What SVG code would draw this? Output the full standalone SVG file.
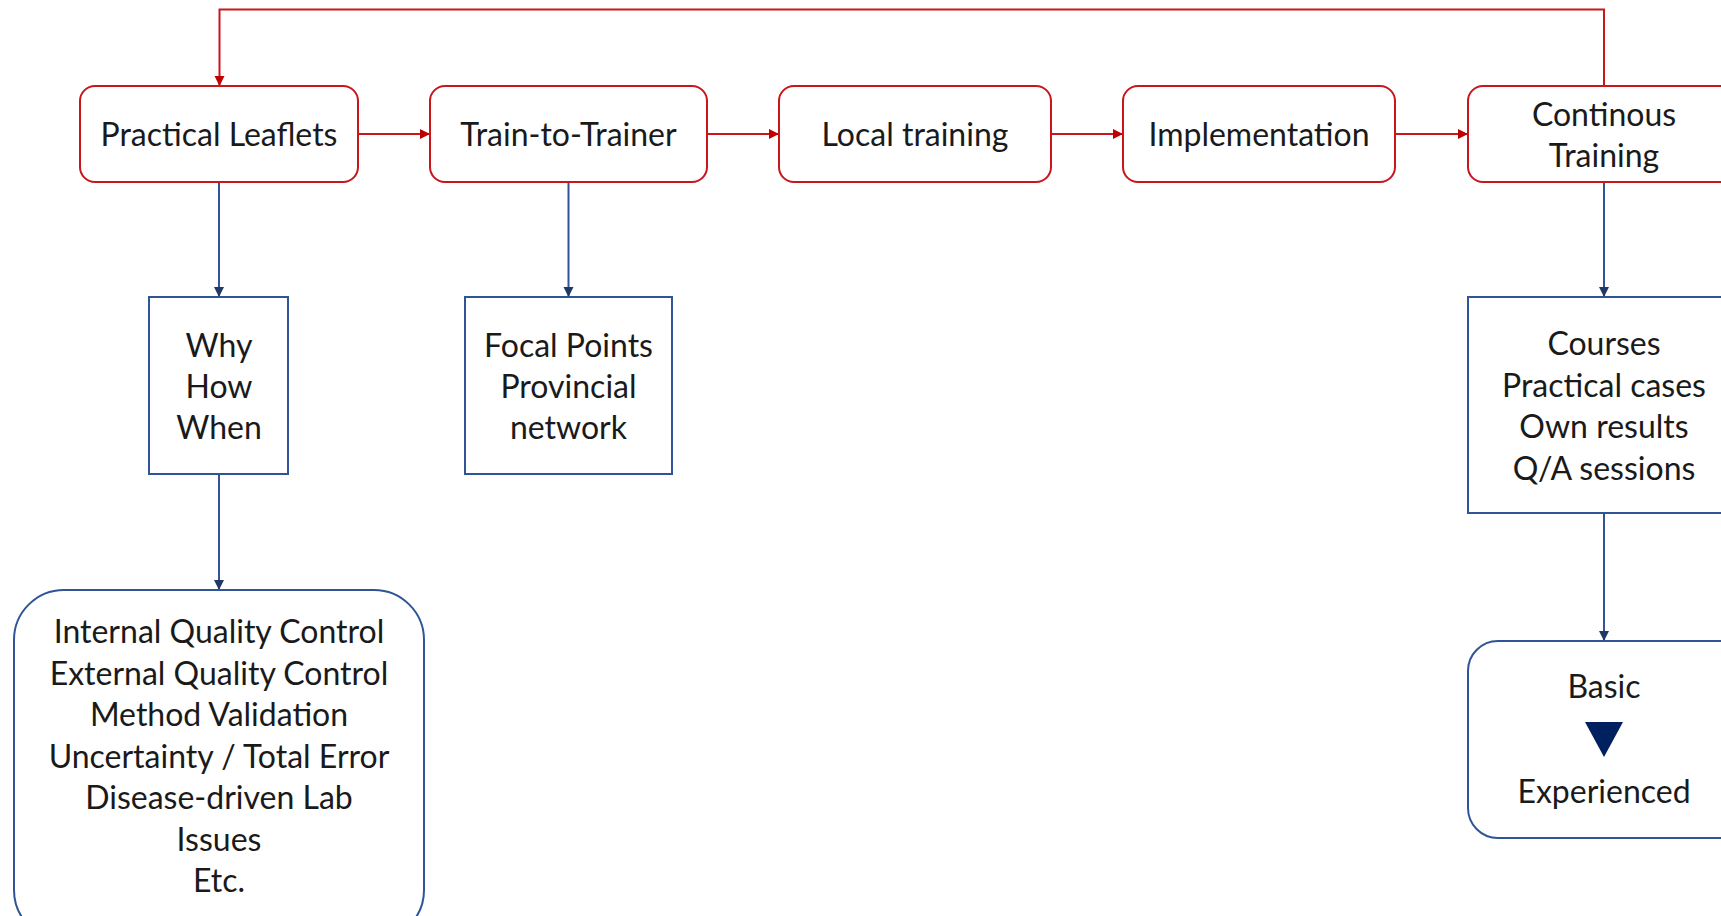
<svg xmlns="http://www.w3.org/2000/svg" width="1721" height="916" viewBox="0 0 1721 916">
<style>
.red{fill:#fff;stroke:#C8161D;stroke-width:2}
.blue{fill:#fff;stroke:#2F5597;stroke-width:2}
.t{font-family:Lato,"Open Sans","Liberation Sans",sans-serif;font-size:32px;fill:#1a1a1a;text-anchor:middle}
.rl{fill:none;stroke:#C8161D;stroke-width:2}
.bl{fill:none;stroke:#2F5597;stroke-width:2}
</style>
<defs>
<marker id="ar" markerUnits="userSpaceOnUse" markerWidth="12" markerHeight="12" refX="10" refY="5" orient="auto"><path d="M0,0 L10,5 L0,10 Z" fill="#C00000"/></marker>
<marker id="ab" markerUnits="userSpaceOnUse" markerWidth="12" markerHeight="12" refX="10" refY="5" orient="auto"><path d="M0,0 L10,5 L0,10 Z" fill="#1F3864"/></marker>
</defs>
<g id="connectors">
<path class="rl" d="M1604,86 V9.5 H219.5 V86" marker-end="url(#ar)"/>
<line class="rl" x1="358" y1="134" x2="430" y2="134" marker-end="url(#ar)"/>
<line class="rl" x1="707" y1="134" x2="779" y2="134" marker-end="url(#ar)"/>
<line class="rl" x1="1051" y1="134" x2="1123" y2="134" marker-end="url(#ar)"/>
<line class="rl" x1="1395" y1="134" x2="1468" y2="134" marker-end="url(#ar)"/>
<line class="bl" x1="219" y1="182" x2="219" y2="297" marker-end="url(#ab)"/>
<line class="bl" x1="568.5" y1="182" x2="568.5" y2="297" marker-end="url(#ab)"/>
<line class="bl" x1="219" y1="474" x2="219" y2="590" marker-end="url(#ab)"/>
<line class="bl" x1="1604" y1="182" x2="1604" y2="297" marker-end="url(#ab)"/>
<line class="bl" x1="1604" y1="513" x2="1604" y2="641" marker-end="url(#ab)"/>
</g>
<g id="practical-leaflets"><rect class="red" x="80" y="86" width="278" height="96" rx="15"/><text class="t" x="219" y="146">Practical Leaflets</text></g>
<g id="train-to-trainer"><rect class="red" x="430" y="86" width="277" height="96" rx="15"/><text class="t" x="568.5" y="146">Train-to-Trainer</text></g>
<g id="local-training"><rect class="red" x="779" y="86" width="272" height="96" rx="15"/><text class="t" x="915" y="146">Local training</text></g>
<g id="implementation"><rect class="red" x="1123" y="86" width="272" height="96" rx="15"/><text class="t" x="1259" y="146">Implementation</text></g>
<g id="continous-training"><rect class="red" x="1468" y="86" width="272" height="96" rx="15"/><text class="t" x="1604" y="126">Continous</text><text class="t" x="1604" y="167">Training</text></g>
<g id="why-how-when"><rect class="blue" x="149" y="297" width="139" height="177"/><text class="t" x="219" y="357">Why</text><text class="t" x="219" y="398">How</text><text class="t" x="219" y="439">When</text></g>
<g id="focal-points"><rect class="blue" x="465" y="297" width="207" height="177"/><text class="t" x="568.5" y="357">Focal Points</text><text class="t" x="568.5" y="398">Provincial</text><text class="t" x="568.5" y="439">network</text></g>
<g id="quality-topics"><rect class="blue" x="14" y="590" width="410" height="350" rx="50"/>
<text class="t" x="219" y="643">Internal Quality Control</text>
<text class="t" x="219" y="684.5">External Quality Control</text>
<text class="t" x="219" y="726">Method Validation</text>
<text class="t" x="219" y="767.5">Uncertainty / Total Error</text>
<text class="t" x="219" y="809">Disease-driven Lab</text>
<text class="t" x="219" y="850.5">Issues</text>
<text class="t" x="219" y="892">Etc.</text></g>
<g id="courses"><rect class="blue" x="1468" y="297" width="300" height="216"/>
<text class="t" x="1604" y="355">Courses</text>
<text class="t" x="1604" y="396.5">Practical cases</text>
<text class="t" x="1604" y="438">Own results</text>
<text class="t" x="1604" y="479.5">Q/A sessions</text></g>
<g id="basic-experienced"><rect class="blue" x="1468" y="641" width="300" height="197" rx="30"/>
<text class="t" x="1604" y="698">Basic</text>
<path d="M1585,722 L1623,722 L1604,757 Z" fill="#002060"/>
<text class="t" x="1604" y="803">Experienced</text></g>
</svg>
